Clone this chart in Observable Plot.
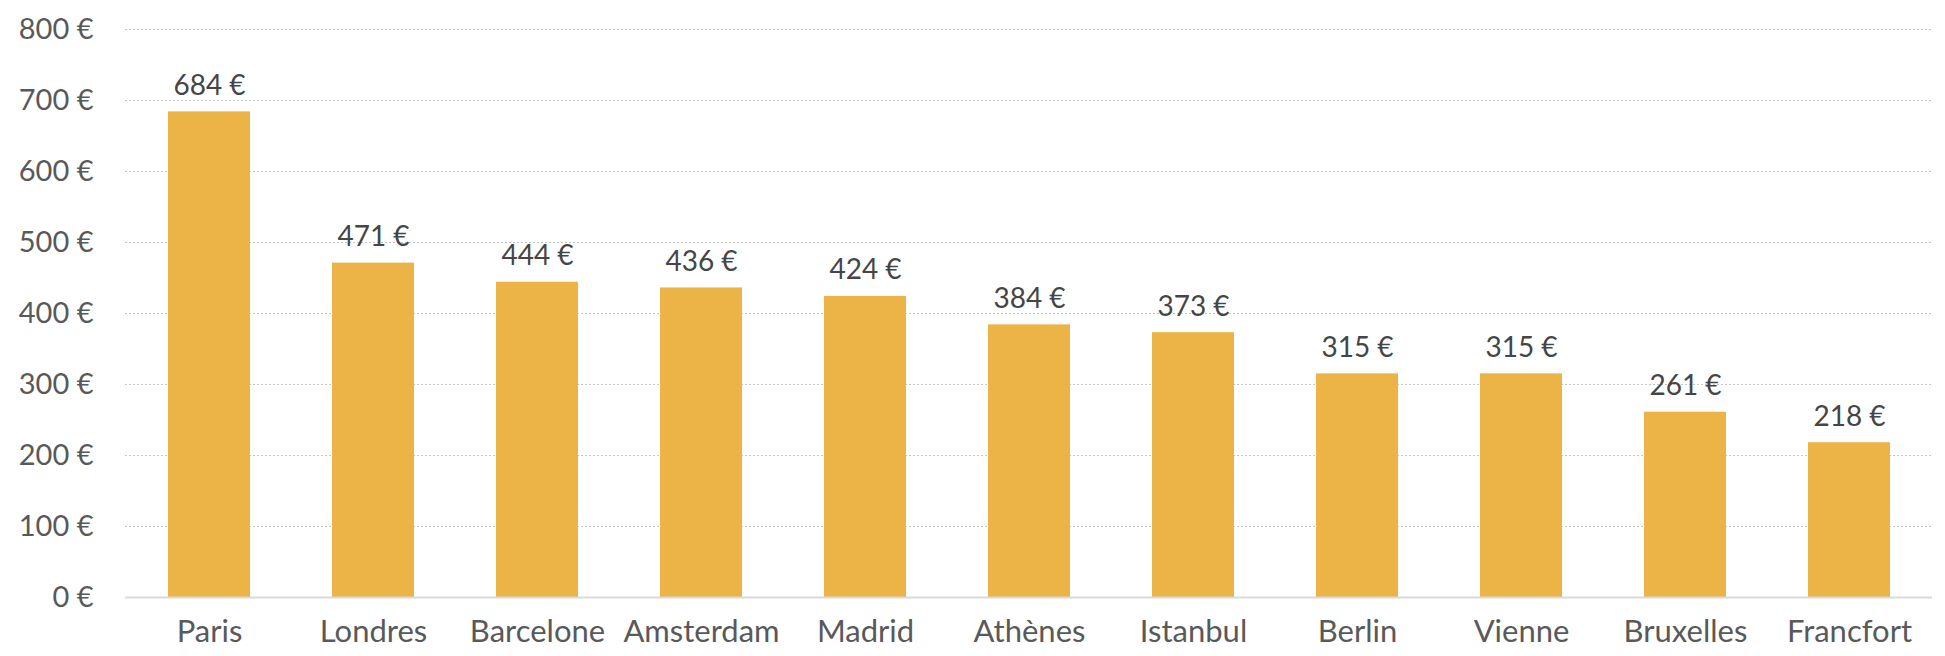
<!DOCTYPE html>
<html>
<head>
<meta charset="utf-8">
<script src="https://cdn.jsdelivr.net/npm/d3@7"></script>
<script src="https://cdn.jsdelivr.net/npm/@observablehq/plot@0.6"></script>
<style>
  html, body { margin: 0; padding: 0; background: #fff; }
  #chart svg { display: block; }
</style>
</head>
<body>
<div id="chart"></div>
<script>
const cities = ["Paris", "Londres", "Barcelone", "Amsterdam", "Madrid", "Athènes", "Istanbul", "Berlin", "Vienne", "Bruxelles", "Francfort"];
const prices = [684, 471, 444, 436, 424, 384, 373, 315, 315, 261, 218];
const yTicks = [0, 100, 200, 300, 400, 500, 600, 700, 800];

const data = cities.map((c, i) => ({city: c, price: prices[i]}));

const chart = Plot.plot({
  width: 1945,
  height: 656,
  marginLeft: 125,
  marginRight: 13,
  marginTop: 29,
  marginBottom: 59,
  style: {fontFamily: "Lato, sans-serif", fontSize: "29px", color: "#595959", background: "#fff"},
  x: {domain: cities, paddingInner: 0.5, paddingOuter: 0.25, label: null, tickSize: 0, tickPadding: 22},
  y: {domain: [0, 800], ticks: yTicks, label: null, tickSize: 0, tickPadding: 32, tickFormat: d => `${d} €`},
  marks: [
    Plot.gridY(yTicks.filter(t => t > 0), {stroke: "#c4c4c4", strokeOpacity: 1, strokeWidth: 1.2, strokeDasharray: "2,2"}),
    Plot.barY(data, {x: "city", y: "price", fill: "#ECB447"}),
    Plot.ruleY([0], {stroke: "#d9d9d9", strokeWidth: 2}),
    Plot.text(data, {x: "city", y: "price", text: d => `${d.price} €`, dy: -26, fill: "#454545", fontSize: 28})
  ]
});
chart.querySelectorAll("[aria-label='x-axis tick label'] text").forEach(t => t.setAttribute("font-size", "31"));
document.getElementById("chart").appendChild(chart);
</script>
</body>
</html>
